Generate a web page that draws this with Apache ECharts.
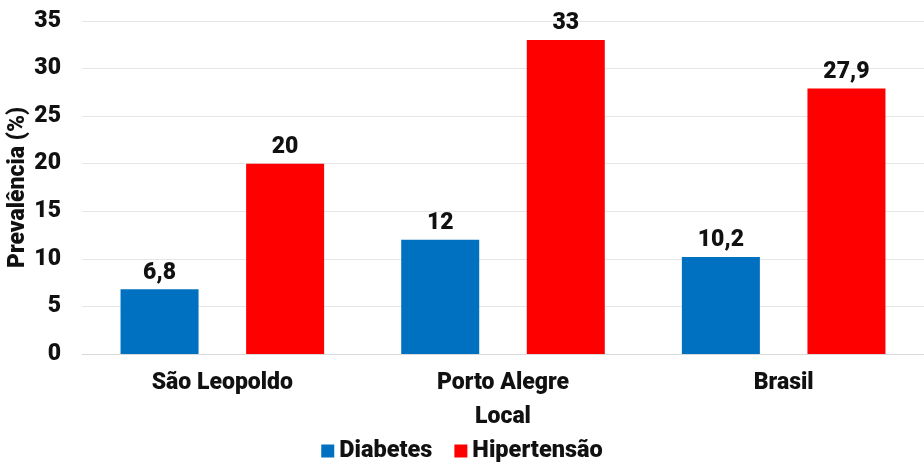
<!DOCTYPE html>
<html><head><meta charset="utf-8">
<script src="https://cdn.jsdelivr.net/npm/echarts@6/dist/echarts.min.js"></script>
<style>html,body{margin:0;padding:0;background:#fff}#c{width:924px;height:462px}</style>
</head><body><div id="c"></div>
<script>
const categories = ['São Leopoldo', 'Porto Alegre', 'Brasil'];
const diabetes = [6.8, 12, 10.2];
const hipertensao = [20, 33, 27.9];
const chart = echarts.init(document.getElementById('c'));
const font = 'Roboto';
const W = 900;
const FS = 23;
const lbl = {show: true, position: 'top', fontFamily: font, fontWeight: W, fontSize: FS, color: '#111',
  formatter: p => String(p.value).replace('.', ',')};
chart.setOption({
  animation: false,
  textStyle: {fontFamily: font},
  grid: {left: 82, right: 0, top: 21, bottom: 108, containLabel: false, outerBoundsMode: 'none'},
  legend: {bottom: -6, left: 'center', itemWidth: 13, itemHeight: 13, itemGap: 22, icon: 'rect',
    textStyle: {fontFamily: font, fontWeight: W, fontSize: 23.5, color: '#111'}},
  xAxis: {type: 'category', data: categories, name: 'Local', nameLocation: 'middle', nameGap: 52,
    nameMoveOverlap: false,
    nameTextStyle: {fontFamily: font, fontWeight: W, fontSize: FS, color: '#111'},
    axisTick: {show: false}, axisLine: {lineStyle: {color: '#d9d9d9'}},
    axisLabel: {fontFamily: font, fontWeight: W, fontSize: FS, color: '#111', margin: 18}},
  yAxis: {type: 'value', min: 0, max: 35, interval: 5, name: 'Prevalência (%)', nameLocation: 'middle', nameGap: 52,
    nameMoveOverlap: false,
    nameTextStyle: {fontFamily: font, fontWeight: W, fontSize: FS, color: '#111'},
    axisLabel: {fontFamily: font, fontWeight: W, fontSize: FS, color: '#111', margin: 21},
    splitLine: {lineStyle: {color: '#e6e6e6'}}},
  series: [
    {name: 'Diabetes', type: 'bar', data: diabetes, barWidth: 78, barGap: '61%', itemStyle: {color: '#0070C0'}, label: lbl},
    {name: 'Hipertensão', type: 'bar', data: hipertensao, barWidth: 78, itemStyle: {color: '#FF0000'}, label: lbl}
  ]
});
</script></body></html>
